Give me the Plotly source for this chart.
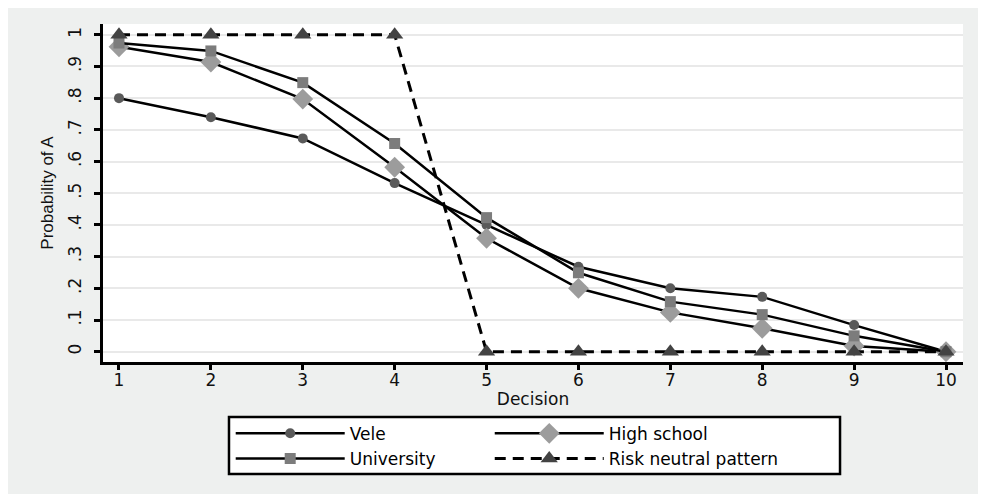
import plotly.graph_objects as go

decision = [1, 2, 3, 4, 5, 6, 7, 8, 9, 10]
vele = [0.80, 0.740, 0.673, 0.532, 0.400, 0.268, 0.200, 0.173, 0.084, 0.0]
high_school = [0.962, 0.914, 0.797, 0.582, 0.358, 0.200, 0.124, 0.074, 0.018, 0.0]
university = [0.974, 0.949, 0.849, 0.657, 0.423, 0.249, 0.158, 0.117, 0.050, 0.0]
risk_neutral = [1, 1, 1, 1, 0, 0, 0, 0, 0, 0]

y_ticks = [0, 0.1, 0.2, 0.3, 0.4, 0.5, 0.6, 0.7, 0.8, 0.9, 1.0]
y_ticktext = ["0", ".1", ".2", ".3", ".4", ".5", ".6", ".7", ".8", ".9", "1"]

FONT = "DejaVu Sans, Liberation Sans, Arial, sans-serif"
BG = "#eef0ef"

fig = go.Figure()
fig.add_trace(go.Scatter(
    x=decision, y=vele, name="Vele", mode="lines+markers",
    line=dict(color="black", width=2.5),
    marker=dict(symbol="circle", size=10, color="#5a5a5a"),
    legend="legend"))
fig.add_trace(go.Scatter(
    x=decision, y=high_school, name="High school", mode="lines+markers",
    line=dict(color="black", width=2.5),
    marker=dict(symbol="diamond", size=16, color="#9c9c9c"),
    legend="legend2"))
fig.add_trace(go.Scatter(
    x=decision, y=university, name="University", mode="lines+markers",
    line=dict(color="black", width=2.5),
    marker=dict(symbol="square", size=11, color="#7c7c7c"),
    legend="legend"))
fig.add_trace(go.Scatter(
    x=decision, y=risk_neutral, name="Risk neutral pattern", mode="lines+markers",
    line=dict(color="black", width=3, dash="11px,7px"),
    marker=dict(symbol="triangle-up", size=15, color="#434343"),
    legend="legend2"))

legend_common = dict(
    orientation="v", bgcolor="rgba(0,0,0,0)", borderwidth=0,
    font=dict(family=FONT, size=17, color="black"),
    itemwidth=109, yanchor="top", xanchor="left", tracegroupgap=0,
)

fig.update_layout(
    width=986, height=494,
    margin=dict(l=95, r=31, t=16, b=140),
    paper_bgcolor=BG, plot_bgcolor="white",
    showlegend=True,
    legend=dict(x=0.1485, y=-0.159, **legend_common),
    legend2=dict(x=0.4497, y=-0.159, **legend_common),
    xaxis=dict(
        range=[0.826, 10.185], tickvals=decision,
        showgrid=False, zeroline=False,
        showline=True, linecolor="black", linewidth=3,
        ticks="outside", ticklen=5, tickwidth=3, tickcolor="black",
        tickfont=dict(family=FONT, size=17, color="#111"),
        ticklabelstandoff=-4,
        title=dict(text="Decision", font=dict(family=FONT, size=17, color="#111"), standoff=4),
    ),
    yaxis=dict(
        range=[-0.0325, 1.034], tickvals=y_ticks, ticktext=y_ticktext,
        tickangle=-90,
        showgrid=True, gridcolor="#e9e9e9", gridwidth=2, zeroline=False,
        showline=True, linecolor="black", linewidth=3,
        ticks="outside", ticklen=6, tickwidth=3, tickcolor="black",
        tickfont=dict(family=FONT, size=17, color="#111"),
        ticklabelstandoff=6,
        title=dict(text="Probability of A",
                   font=dict(family="Liberation Sans Narrow, Liberation Sans, Arial", size=17, color="#111"),
                   standoff=8),
    ),
    shapes=[
        dict(type="rect", xref="paper", yref="paper",
             x0=0.1465, x1=0.857, y0=-0.3314, y1=-0.1627,
             fillcolor="white", line=dict(color="black", width=2.5), layer="below"),
    ],
)

fig.write_html("out.html")
